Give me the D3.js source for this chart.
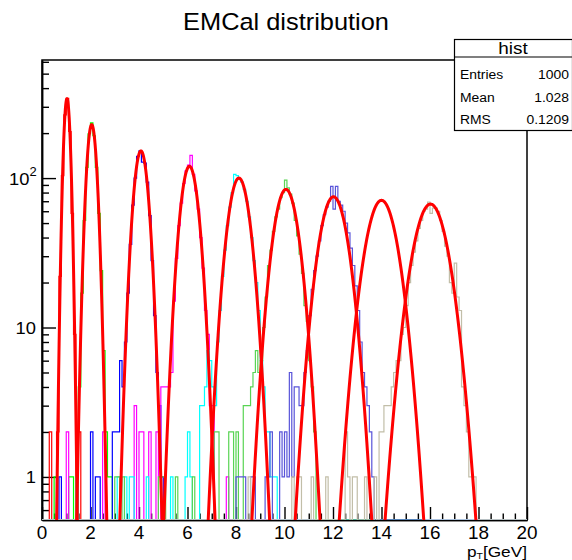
<!DOCTYPE html>
<html><head><meta charset="utf-8">
<script src="https://cdn.jsdelivr.net/npm/d3@7"></script>
<style>body{margin:0;background:#fff}svg{display:block}text{font-family:"Liberation Sans",Arial,Helvetica,sans-serif;fill:#000}</style>
</head><body>
<svg id="chart" width="572" height="560"></svg>
<script>
// ---------- data ----------
const binWidth = 0.1;
const xMajorTicks = [0, 2, 4, 6, 8, 10, 12, 14, 16, 18, 20];
const xTickLabels = ["0", "2", "4", "6", "8", "10", "12", "14", "16", "18", "20"];
const yMajorTicks = [1, 10, 100];
const histColors = ["#ff0000", "#00ff00", "#0000ff", "#ff00ff", "#00ffff", "#59d454", "#5954d9", "#ffffff", "#c2bea8"];

// bin counts (bin k covers [0.1k, 0.1k+0.1)), each hist listed from its first bin
const h1Start = 3;
const h1Counts = [2,0,0,2,22,104,265,342,205,58,9,1,2];
const h2Start = 5;
const h2Counts = [1,0,0,0,0,0,1,1,0,1,4,17,52,118,198,234,192,118,58,24,7,2,1,1];
const h3Start = 7;
const h3Counts = [1,0,0,0,0,0,0,0,0,0,0,0,0,2,0,1,1,0,0,0,0,0,2,2,2,6,4,8,17,36,66,100,140,152,128,126,94,56,28,12,5,3,1];
const h4Start = 10;
const h4Counts = [2,0,0,0,0,0,0,0,0,0,0,0,0,0,0,2,0,0,0,0,0,0,0,0,0,0,0,0,3,0,2,2,0,0,2,0,0,2,0,4,4,4,4,5,15,29,48,68,92,112,122,142,106,82,62,40,25,13,9,3,3,0,0,0,0,0,1];
const h5Start = 14;
const h5Counts = [1,0,0,0,0,0,0,0,0,0,0,0,0,0,0,0,0,1,0,0,1,0,1,1,0,0,0,0,0,1,0,0,0,0,0,0,0,0,0,1,0,0,0,0,0,1,2,1,0,0,0,3,3,4,7,6,4,3,8,13,22,33,48,64,80,106,104,98,94,84,70,55,40,28,20,13,6,4,2,2,1,1,1];
const h6Start = 30;
const h6Counts = [1,1,0,1,0,0,0,0,0,0,0,0,0,0,0,0,0,0,1,1,1,0,0,0,0,1,0,0,0,0,0,0,1,0,0,0,0,0,0,0,0,2,2,0,0,0,0,2,2,0,2,0,0,3,3,3,4,5,7,5,6,10,16,26,33,44,55,62,74,80,97,86,78,68,52,41,31,23,14,11,6,4,2];
const h7Start = 80;
const h7Counts = [1,1,1,1,0,0,1,1,0,0,0,0,1,1,2,0,0,0,2,1,2,1,5,1,4,4,3,3,5,7,12,18,24,30,38,48,57,64,70,88,62,88,70,66,60,50,43,34,26,19,13,8,5,4,3,2,1];
const h8Start = 123;
const h8Counts = [1,1,2,4,6,8,12,16,22,29,36,43,51,58,64,68,71,70,69,64,58,51,43,36,28,22,16,12,8,6,4,2,1,1];
const h9Start = 85;
const h9Counts = [1,0,0,0,0,0,0,0,0,0,0,0,0,0,0,0,0,0,1,0,1,1,0,0,0,0,1,0,0,0,0,0,1,0,0,0,0,0,0,0,2,1,0,1,1,0,0,0,1,0,0,0,1,0,2,2,3,3,3,4,5,6,6,9,10,14,20,26,32,38,46,52,60,62,69,58,63,63,60,52,44,35,30,20,17,27,16,13,4,3,2,1,1,1];

// gaussian fit parameters (constant, mean, sigma) of the red curves
const fitConst = [340, 228, 152, 120, 100, 84, 75, 71, 67];
const fitMean  = [1.03, 2.05, 4.08, 6.08, 8.12, 10.06, 12.02, 14.0, 16.02];
const fitSigma = [0.118, 0.178, 0.258, 0.32, 0.39, 0.44, 0.50, 0.555, 0.60];

const titleText = "EMCal distribution";
const statsName = "hist";
const statsLabels = ["Entries", "Mean", "RMS"];
const statsValues = ["1000", "1.028", "0.1209"];

// ---------- layout ----------
const L = 42, R = 527, T = 60, B = 520;
const yMin = 0.515, yMax = 617;
const nBins = 200;

const svg = d3.select("#chart");
const x = d3.scaleLinear().domain([0, 20]).range([L, R]);
const y = d3.scaleLog().domain([yMin, yMax]).range([B, T]);

svg.append("defs").append("clipPath").attr("id", "plotclip")
  .append("rect").attr("x", L).attr("y", T).attr("width", R - L).attr("height", B - T);

function stxt(g, px, py, str, size, anchor, sx) {
  return g.append("text")
    .attr("transform", `translate(${px},${py}) scale(${sx},1)`)
    .attr("text-anchor", anchor).attr("font-size", size).text(str);
}

// ---------- frame & axes ----------
svg.append("rect").attr("x", L).attr("y", T).attr("width", R - L).attr("height", B - T)
  .attr("fill", "none").attr("stroke", "#000").attr("stroke-width", 1.5);

const xMinor = d3.range(0, 40).map(i => i * 0.5).filter(v => v % 2 !== 0);
const gx = svg.append("g").attr("transform", `translate(0,${B})`);
gx.call(d3.axisBottom(x).tickValues(xMajorTicks).tickSizeInner(-13).tickSizeOuter(0).tickFormat(""));
gx.append("g").call(d3.axisBottom(x).tickValues(xMinor).tickSizeInner(-6.5).tickSizeOuter(0).tickFormat(""));
gx.selectAll("path.domain").attr("stroke-width", 1.5);
gx.selectAll(".tick line").attr("stroke", "#000").attr("stroke-width", 1.4);
xMajorTicks.forEach((v, i) => stxt(svg, x(v), 539, xTickLabels[i], 17.5, "middle", 1.08));

const yMinor = [0.6,0.7,0.8,0.9,2,3,4,5,6,7,8,9,20,30,40,50,60,70,80,90,200,300,400,500,600];
const gy = svg.append("g").attr("transform", `translate(${L},0)`);
gy.call(d3.axisLeft(y).tickValues(yMajorTicks).tickSizeInner(-14).tickSizeOuter(0).tickFormat(""));
gy.append("g").call(d3.axisLeft(y).tickValues(yMinor).tickSizeInner(-7).tickSizeOuter(0).tickFormat(""));
gy.selectAll("path.domain").attr("stroke-width", 1.5);
gy.selectAll(".tick line").attr("stroke", "#000").attr("stroke-width", 1.4);
stxt(svg, 36, y(1) + 6, "1", 17, "end", 1.08);
stxt(svg, 36, y(10) + 6, "10", 17, "end", 1.08);
stxt(svg, 29.5, y(100) + 7, "10", 17, "end", 1.08);
stxt(svg, 29.5, y(100) - 2, "2", 12, "start", 1.08);

// ---------- histograms ----------
const histStarts = [h1Start, h2Start, h3Start, h4Start, h5Start, h6Start, h7Start, h8Start, h9Start];
const histCounts = [h1Counts, h2Counts, h3Counts, h4Counts, h5Counts, h6Counts, h7Counts, h8Counts, h9Counts];
const plot = svg.append("g").attr("clip-path", "url(#plotclip)");
const yb = c => (c > yMin ? y(c) : B);
const stepLine = d3.line().x(d => x(d[0])).y(d => yb(d[1])).curve(d3.curveStepAfter);

histCounts.forEach((counts, h) => {
  const full = d3.range(nBins).map(k => {
    const j = k - histStarts[h];
    return (j >= 0 && j < counts.length) ? counts[j] : 0;
  });
  const pts = full.map((c, k) => [k * binWidth, c]);
  pts.push([nBins * binWidth, full[nBins - 1]]);
  plot.append("path").attr("d", stepLine(pts)).attr("fill", "none")
    .attr("stroke", histColors[h]).attr("stroke-width", 1.2);
});

// ---------- fits ----------
const fitLine = d3.line().x(d => x(d[0])).y(d => y(d[1]));
fitConst.forEach((A, i) => {
  const m = fitMean[i], s = fitSigma[i];
  const xs = d3.range(-4.6, 4.6001, 0.05).map(t => m + t * s);
  const pts = xs.map(v => [v, A * Math.exp(-0.5 * ((v - m) / s) ** 2)]);
  plot.append("path").attr("d", fitLine(pts)).attr("fill", "none")
    .attr("stroke", "#ff0000").attr("stroke-width", 3).attr("stroke-linejoin", "round");
});

// ---------- title & axis title ----------
stxt(svg, 286, 30, titleText, 23.5, "middle", 1.08);
const xt = svg.append("text").attr("transform", `translate(527,556.5) scale(1.15,1)`)
  .attr("text-anchor", "end").attr("font-size", 15);
xt.append("tspan").text("p");
xt.append("tspan").attr("font-size", 9).attr("dy", 2).text("T");
xt.append("tspan").attr("dy", -2).text("[GeV]");

// ---------- stats box ----------
const sb = svg.append("g");
sb.append("rect").attr("x", 454.5).attr("y", 39.5).attr("width", 118).attr("height", 91)
  .attr("fill", "#fff").attr("stroke", "#000").attr("stroke-width", 1.2);
sb.append("line").attr("x1", 454.5).attr("x2", 572).attr("y1", 57).attr("y2", 57)
  .attr("stroke", "#000").attr("stroke-width", 1.2);
stxt(sb, 513, 54, statsName, 16.5, "middle", 1.15);
statsLabels.forEach((lab, i) => {
  const by = 79 + i * 22.5;
  stxt(sb, 460, by, lab, 13.5, "start", 1.03);
  stxt(sb, 569, by, statsValues[i], 13.5, "end", 1.03);
});
</script>
</body></html>
